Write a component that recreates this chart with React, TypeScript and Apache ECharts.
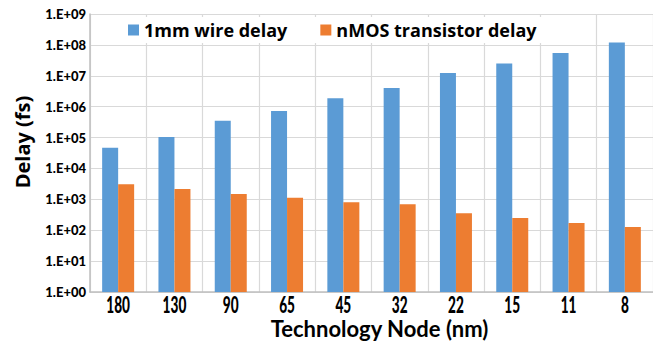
import React, { useEffect, useRef } from "react";
import * as echarts from "echarts";

const categories = ["180", "130", "90", "65", "45", "32", "22", "15", "11", "8"];
const wireDelay = [47000, 105000, 350000, 720000, 1870000, 4000000, 12300000, 25000000, 55000000, 120000000];
const nmosDelay = [3100, 2150, 1500, 1130, 800, 690, 355, 250, 171, 127];
const seriesNames = ["1mm wire delay", "nMOS transistor delay"];
const yAxisTitle = "Delay (fs)";
const xAxisTitle = "Technology Node (nm)";

export default function App() {
  const ref = useRef<HTMLDivElement>(null);
  useEffect(() => {
    if (!ref.current) return;
    const chart = echarts.init(ref.current, null, { renderer: "svg" });
    const font = "'Open Sans', Lato, sans-serif";
    chart.setOption({
      animation: false,
      backgroundColor: "#ffffff",
      grid: { left: 90, top: 14, width: 572, height: 278 },
      legend: {
        data: seriesNames,
        left: 122,
        top: 17,
        padding: [4, 6, 4, 6],
        backgroundColor: "#ffffff",
        icon: "rect",
        itemWidth: 11,
        itemHeight: 11,
        itemGap: 33,
        textStyle: { fontFamily: font, fontWeight: "bold", fontSize: 18, color: "#000" },
      },
      xAxis: {
        type: "category",
        data: categories,
        name: xAxisTitle,
        nameLocation: "middle",
        nameGap: 25,
        nameTextStyle: {
          fontFamily: "Lato, sans-serif",
          fontWeight: "bold",
          fontSize: 22,
          color: "#000",
          padding: [0, 0, 0, 16],
        },
        axisLine: { lineStyle: { color: "#bfbfbf", width: 1.5 } },
        axisTick: { show: false },
        axisLabel: { show: false },
        splitLine: { show: true, interval: 0, lineStyle: { color: "#d9d9d9", width: 1.2 } },
      },
      yAxis: {
        type: "log",
        logBase: 10,
        min: 1,
        max: 1e9,
        interval: 1,
        axisLine: { show: true, lineStyle: { color: "#bfbfbf", width: 1.5 } },
        axisTick: { show: false },
        axisLabel: {
          margin: 4,
          fontFamily: "Lato, sans-serif",
          fontWeight: 900,
          fontSize: 13,
          color: "#000",
          formatter: (v: number) => {
            const e = Math.round(Math.log10(v));
            return "1.E+" + (e < 10 ? "0" + e : String(e));
          },
        },
        splitLine: { show: true, lineStyle: { color: "#d9d9d9", width: 1.2 } },
      },
      series: [
        {
          name: seriesNames[0],
          type: "bar",
          data: wireDelay,
          barWidth: 16,
          barGap: "0%",
          itemStyle: { color: "#5b9bd5" },
        },
        {
          name: seriesNames[1],
          type: "bar",
          data: nmosDelay,
          barWidth: 16,
          barGap: "0%",
          itemStyle: { color: "#ed7d31" },
        },
      ],
    });
    const axisY = chart.convertToPixel({ yAxisIndex: 0 }, 1) as number;
    const labelTexts = categories.map((c, i) => ({
      type: "text",
      x: chart.convertToPixel({ xAxisIndex: 0 }, i) as number,
      y: axisY + 13,
      scaleX: 0.62,
      style: {
        text: c,
        fontFamily: "Lato, sans-serif",
        fontWeight: 900,
        fontSize: 22,
        fill: "#000",
        align: "center",
        verticalAlign: "middle",
      },
    }));
    chart.setOption({
      graphic: [
        {
          type: "text",
          x: 22,
          y: 142,
          rotation: Math.PI / 2,
          style: {
            text: yAxisTitle,
            fontFamily: font,
            fontWeight: "bold",
            fontSize: 20,
            fill: "#000",
            align: "center",
            verticalAlign: "middle",
          },
        },
        ...labelTexts,
      ],
    });
    return () => chart.dispose();
  }, []);
  return <div ref={ref} style={{ width: 653, height: 350, position: "absolute", left: 0, top: 0 }} />;
}
